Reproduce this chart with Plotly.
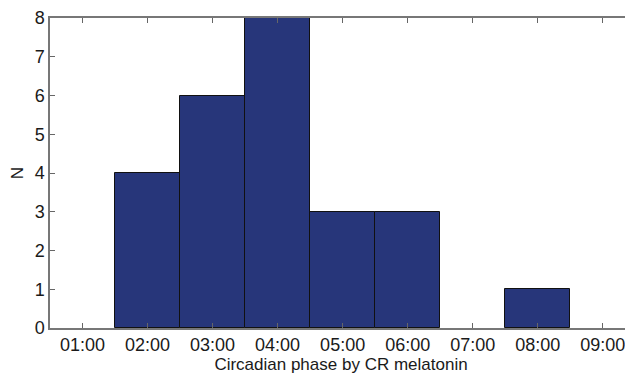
import plotly.graph_objects as go

hours = [2, 3, 4, 5, 6, 7, 8]
counts = [4, 6, 8, 3, 3, 0, 1]
tick_vals = [1, 2, 3, 4, 5, 6, 7, 8, 9]
tick_labels = ["01:00", "02:00", "03:00", "04:00", "05:00", "06:00", "07:00", "08:00", "09:00"]

outline_w = [1 if c > 0 else 0 for c in counts]

fig = go.Figure(go.Bar(
    x=hours, y=counts, width=1,
    marker=dict(color="#27367a", line=dict(color="#111111", width=outline_w)),
))

font = dict(family="Liberation Sans, Arial, sans-serif", size=18, color="#1a1a1a")
# the page body has an 8px default margin, so the figure is sized/offset to compensate
fig.update_layout(
    width=625, height=367,
    margin=dict(l=42, r=1, t=10, b=47),
    plot_bgcolor="white", paper_bgcolor="white",
    font=font, showlegend=False, bargap=0,
)
fig.update_xaxes(
    range=[0.5, 9.45], tickvals=tick_vals, ticktext=tick_labels,
    ticks="inside", ticklen=5, tickcolor="#666666",
    showline=True, linecolor="#777777", linewidth=1.5, mirror="allticks",
    showgrid=False, zeroline=False, automargin=False,
    title=dict(text="Circadian phase by CR melatonin", standoff=0, font=dict(size=17)),
)
fig.update_yaxes(
    range=[0, 8], dtick=1,
    ticks="inside", ticklen=5, tickcolor="#666666",
    showline=True, linecolor="#777777", linewidth=1.5, mirror="allticks",
    showgrid=False, zeroline=False, automargin=False,
    title=dict(text="N", standoff=10, font=dict(size=17)),
)
fig.write_html("out.html")
